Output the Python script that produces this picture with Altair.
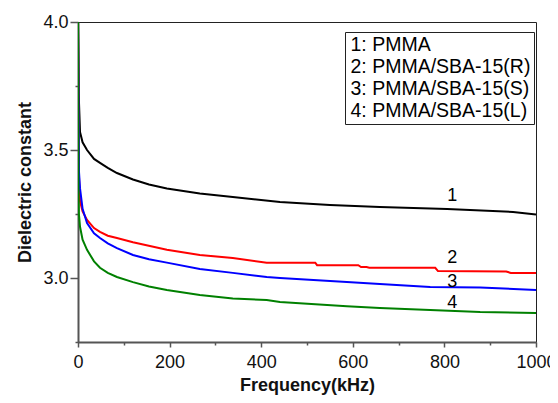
import altair as alt
import pandas as pd

FONT = "Liberation Sans"

names = ["1: PMMA", "2: PMMA/SBA-15(R)", "3: PMMA/SBA-15(S)", "4: PMMA/SBA-15(L)"]
colors = ["#000000", "#ff0000", "#0000ff", "#008000"]

f1 = [0, 1.5, 4.4, 10, 19.7, 35, 48, 65, 85, 120, 155, 194, 266, 338, 441, 550, 659, 806, 950, 1000]
v1 = [4.0, 3.72, 3.57, 3.53, 3.50, 3.465, 3.45, 3.43, 3.41, 3.385, 3.365, 3.35, 3.33, 3.316, 3.297, 3.285, 3.277, 3.27, 3.258, 3.248]

f2 = [0, 2, 4.4, 10, 19.7, 35, 48, 65, 85, 120, 194, 266, 338, 412, 441, 518, 522, 612, 618, 630, 636, 780, 786, 935, 945, 1000]
v2 = [4.0, 3.40, 3.30, 3.26, 3.227, 3.195, 3.18, 3.165, 3.156, 3.14, 3.11, 3.09, 3.078, 3.06, 3.06, 3.06, 3.05, 3.05, 3.043, 3.043, 3.04, 3.04, 3.027, 3.025, 3.02, 3.02]

f3 = [0, 2, 4.4, 10, 19.7, 35, 48, 65, 85, 120, 155, 194, 266, 338, 412, 441, 587, 659, 769, 878, 1000]
v3 = [4.0, 3.42, 3.35, 3.27, 3.215, 3.175, 3.156, 3.135, 3.117, 3.09, 3.073, 3.06, 3.035, 3.02, 3.004, 3.0, 2.984, 2.977, 2.965, 2.963, 2.953]

f4 = [0, 1, 2, 4.4, 10, 19.7, 35, 48, 65, 85, 120, 155, 194, 266, 338, 412, 441, 587, 659, 769, 878, 1000]
v4 = [4.0, 3.35, 3.25, 3.20, 3.15, 3.11, 3.065, 3.04, 3.02, 3.004, 2.984, 2.967, 2.953, 2.934, 2.92, 2.914, 2.906, 2.89, 2.883, 2.875, 2.867, 2.863]

label_text = ["1", "2", "3", "4"]
label_f = [817, 817, 817, 817]
label_v = [3.32, 3.078, 2.984, 2.902]

x_ticks = [0, 100, 200, 300, 400, 500, 600, 700, 800, 900, 1000]
y_ticks = [2.75, 3.0, 3.25, 3.5, 3.75, 4.0]

rows = []
for i, (fs, vs) in enumerate([(f1, v1), (f2, v2), (f3, v3), (f4, v4)]):
    for f, v in zip(fs, vs):
        rows.append({"freq": f, "eps": v, "series": names[i], "order": i})
df = pd.DataFrame(rows)
lab = pd.DataFrame({"freq": label_f, "eps": label_v, "text": label_text})

xscale = alt.Scale(domain=[0, 1000], nice=False, zero=False)
yscale = alt.Scale(domain=[2.75, 4.0], nice=False, zero=False)

xaxis = alt.Axis(
    values=x_ticks,
    format="d",
    labelExpr="datum.value % 200 === 0 ? datum.label : ''",
    tickSize={"condition": {"test": "datum.value % 200 === 0", "value": 5}, "value": 3},
    title="Frequency(kHz)",
    titlePadding=5,
    grid=False,
    labelPadding=6,
    labelFlush=False,
    labelOverlap=False,
)
yaxis = alt.Axis(
    values=y_ticks,
    format=".1f",
    labelExpr="round(datum.value * 4) % 2 === 0 ? datum.label : ''",
    tickSize={"condition": {"test": "round(datum.value * 4) % 2 === 0", "value": 8}, "value": 3},
    title="Dielectric constant",
    titlePadding=8,
    grid=False,
    labelPadding=2,
    labelFlush=False,
)

lines = alt.Chart(df).mark_line(strokeWidth=2, clip=True).encode(
    x=alt.X("freq:Q", scale=xscale, axis=xaxis),
    y=alt.Y("eps:Q", scale=yscale, axis=yaxis),
    color=alt.Color(
        "series:N",
        scale=alt.Scale(domain=names, range=colors),
        legend=alt.Legend(
            orient="none",
            legendX=267,
            legendY=10,
            title=None,
            symbolSize=0,
            symbolOpacity=0,
            symbolStrokeWidth=0,
            labelOffset={"expr": "-17"},
            labelFontSize=19.5,
            labelFont=FONT,
            labelColor="black",
            fillColor="white",
            strokeColor="#222",
            padding=3,
            rowPadding=1,
            labelLimit=300,
        ),
    ),
    order=alt.Order("order:Q"),
    detail="series:N",
)

texts = alt.Chart(lab).mark_text(font=FONT, fontSize=18, color="black").encode(
    x=alt.X("freq:Q", scale=xscale),
    y=alt.Y("eps:Q", scale=yscale),
    text="text:N",
)

chart = alt.layer(lines, texts).properties(
    width=458,
    height=320,
    autosize=alt.AutoSizeParams(type="none"),
    padding={"left": 70, "top": 14, "right": 14, "bottom": 53},
    background="white",
).configure_view(
    stroke="#222", strokeWidth=1
).configure_axis(
    labelFont=FONT,
    labelFontSize=18,
    labelColor="#111",
    titleFont=FONT,
    titleFontSize=18,
    titleFontWeight="bold",
    titleColor="#111",
    domainColor="#555",
    domainWidth=2,
    tickColor="#555",
    tickWidth=1.5,
)

chart.save("out.html", embed_options={"renderer": "svg", "actions": False})
